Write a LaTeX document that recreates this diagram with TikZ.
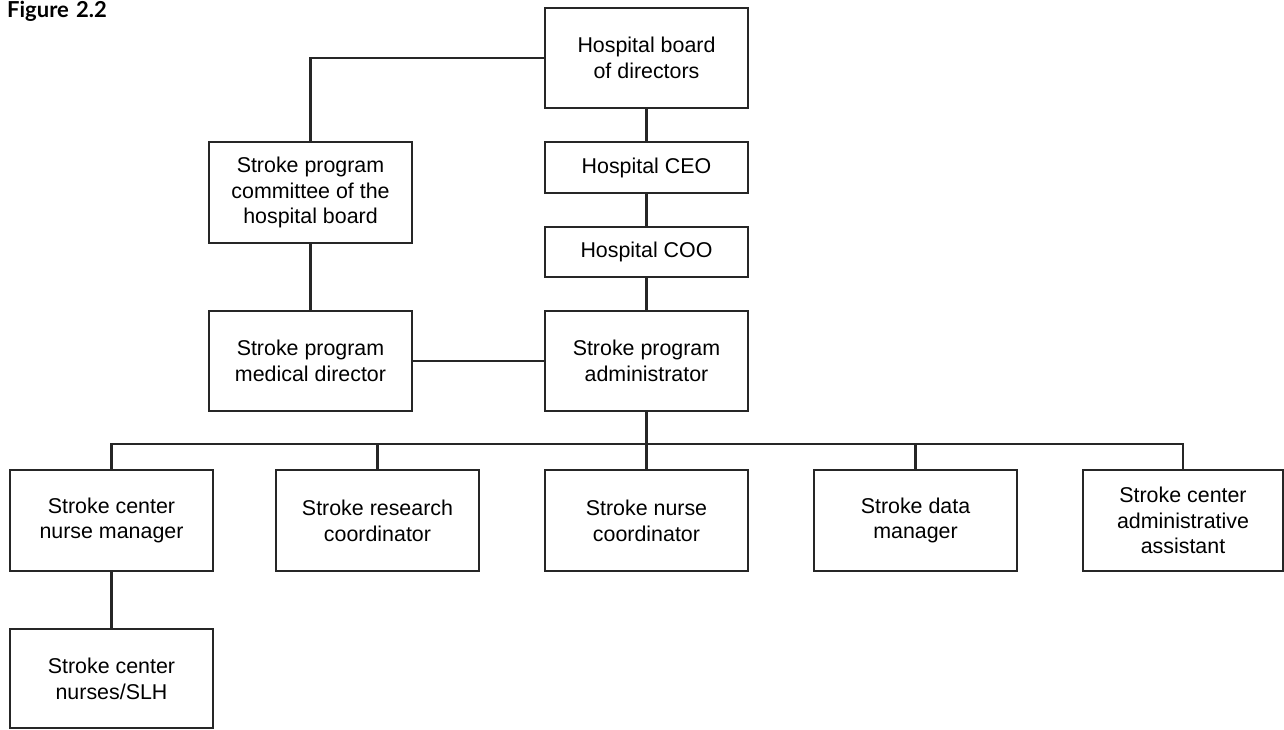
\documentclass[tikz,border=0pt]{standalone}
\usepackage{fontspec}
\setmainfont{Liberation Sans}
\newfontfamily\figfont{Lato}
\tikzset{
  orgbox/.style={draw=black!85, line width=2.8pt, align=center, inner sep=0pt,
    minimum width=203pt, font=\fontsize{21.4}{25.7}\selectfont},
  tall/.style={orgbox, minimum height=100pt},
  short/.style={orgbox, minimum height=50pt},
  link/.style={draw=black!85, line width=2.8pt},
}
\begin{document}
\begin{tikzpicture}[x=1pt,y=-1pt]
\useasboundingbox (0,0) rectangle (1284,730);
\node[anchor=north west, inner sep=0pt, font=\figfont\bfseries\fontsize{22}{24}\selectfont] (fig) at (7,1) {Figure\,\,2.2};
\node[tall] (board) at (646.5,58) {Hospital board\\of directors};
\node[short, minimum height=51pt] (ceo) at (646.5,167.5) {Hospital CEO};
\node[short] (coo) at (646.5,252) {Hospital COO};
\node[tall] (admin) at (646.5,361) {Stroke program\\administrator};
\node[tall, minimum height=101pt] (comm) at (310.5,192.5) {Stroke program\\committee of the\\hospital board};
\node[tall] (med) at (310.5,361) {Stroke program\\medical director};
\node[tall, minimum height=101pt] (nm) at (111.5,520.5) {Stroke center\\nurse manager};
\node[tall, minimum height=101pt] (rc) at (377.5,520.5) {Stroke research\\coordinator};
\node[tall, minimum height=101pt] (nc) at (646.5,520.5) {Stroke nurse\\coordinator};
\node[tall, minimum height=101pt] (dm) at (915.5,520.5) {Stroke data\\manager};
\node[tall, minimum height=101pt, minimum width=200pt] (aa) at (1183,520.5) {Stroke center\\administrative\\assistant};
\node[tall, minimum height=99pt] (nurses) at (111.5,678.5) {Stroke center\\nurses/SLH};
\coordinate (bus) at (646.5,444);
\draw[link] (board.west) -| (comm.north);
\draw[link] (board) -- (ceo);
\draw[link] (ceo) -- (coo);
\draw[link] (coo) -- (admin);
\draw[link] (comm) -- (med);
\draw[link] (med) -- (admin);
\draw[link] (admin.south) -- (bus);
\draw[link] (nm.north) |- (bus) -| (aa.north);
\draw[link] (rc.north) -- (rc.north |- bus);
\draw[link] (bus) -- (nc.north);
\draw[link] (dm.north) -- (dm.north |- bus);
\draw[link] (nm) -- (nurses);
\end{tikzpicture}
\end{document}
